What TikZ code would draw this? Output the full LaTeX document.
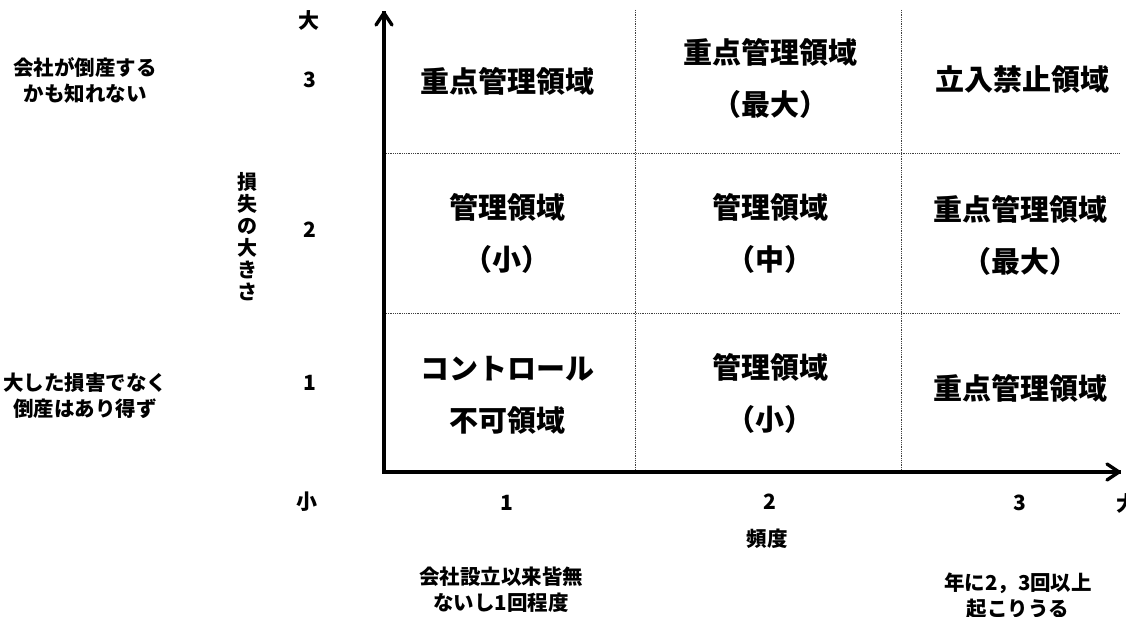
\documentclass[tikz,border=0pt]{standalone}
\usepackage{fontspec}
\setmainfont{Noto Sans CJK JP}
\tikzset{
  cell/.style={font=\fontsize{29}{52}\selectfont\bfseries, align=center, inner sep=0pt},
  lbl/.style={font=\fontsize{20.5}{26}\selectfont\bfseries, align=center, inner sep=0pt},
  num/.style={font=\fontsize{21}{24}\selectfont\bfseries, inner sep=0pt},
  grid/.style={draw=black!75, line width=0.8pt, dash pattern=on 0.9pt off 0.9pt},
  axis/.style={line width=3.6pt},
  chevron/.style={line width=3.4pt, line cap=round, line join=round}
}
\begin{document}
\begin{tikzpicture}[x=1pt,y=-1pt]
\useasboundingbox[fill=white] (0,0) rectangle (1126,617);
% grid
\coordinate (g1t) at (635,10);  \coordinate (g1b) at (635,470);
\coordinate (g2t) at (901,10);  \coordinate (g2b) at (901,470);
\coordinate (h1l) at (386,153); \coordinate (h1r) at (1120,153);
\coordinate (h2l) at (386,313); \coordinate (h2r) at (1120,313);
\draw[grid] (g1t) -- (g1b);
\draw[grid] (g2t) -- (g2b);
\draw[grid] (h1l) -- (h1r);
\draw[grid] (h2l) -- (h2r);
% axes
\coordinate (o) at (384,472);
\coordinate (ytop) at (384,13);
\coordinate (xend) at (1119,472);
\draw[axis, line cap=rect] (o) -- (ytop);
\draw[axis, line cap=rect] (o) -- (xend);
\draw[chevron] (ytop) ++(-8,12) -- (ytop) -- ++(8,12);
\draw[chevron] (xend) ++(-12,-8) -- (xend) -- ++(-12,8);
% cells
\node[cell] (c13) at (507,81) {重点管理領域};
\node[cell] (c23) at (770,78) {重点管理領域\\（最大）};
\node[cell] (c33) at (1022,80) {立入禁止領域};
\node[cell] (c12) at (507,233) {管理領域\\（小）};
\node[cell] (c22) at (770,233) {管理領域\\（中）};
\node[cell] (c32) at (1020,235) {重点管理領域\\（最大）};
\node[cell] (c11) at (507,395) {コントロール\\不可領域};
\node[cell] (c21) at (770,393) {管理領域\\（小）};
\node[cell] (c31) at (1020,388) {重点管理領域};
% y-axis labels
\node[num] (ybig) at (309,20) {大};
\node[num] (y3) at (310,80) {3};
\node[num] (y2) at (310,230) {2};
\node[num] (y1) at (310,383) {1};
\node[font=\fontsize{20}{22}\selectfont\bfseries, align=center, inner sep=0pt] (ytitle) at (247,237) {損\\失\\の\\大\\き\\さ};
\node[lbl] (ydesc3) at (85,80) {会社が倒産する\\かも知れない};
\node[lbl] (ydesc1) at (85,396) {大した損害でなく\\倒産はあり得ず};
% x-axis labels
\node[num] (xsmall) at (307,502) {小};
\node[num] (x1) at (507,503) {1};
\node[num] (x2) at (770,502) {2};
\node[num] (x3) at (1020,503) {3};
\node[num] (xbig) at (1127,503) {大};
\node[lbl] (xtitle) at (767,539) {頻度};
\node[lbl] (xdesc1) at (501,590) {会社設立以来皆無\\ないし1回程度};
\node[lbl] (xdesc3) at (1018,596) {年に2，3回以上\\起こりうる};
\end{tikzpicture}
\end{document}
